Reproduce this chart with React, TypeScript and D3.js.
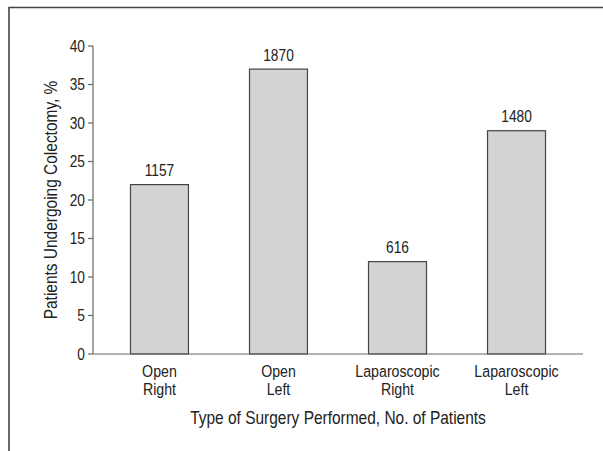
import React from "react";
import * as d3 from "d3";

const categories = ["Open|Right", "Open|Left", "Laparoscopic|Right", "Laparoscopic|Left"];
const values = [22, 37, 12, 29];
const counts = ["1157", "1870", "616", "1480"];
const yTicks = [0, 5, 10, 15, 20, 25, 30, 35, 40];

const W = 603;
const H = 451;
const FONT = "'Liberation Sans', Arial, sans-serif";
const SX = 0.86;

function T({ x, y, size, anchor = "middle", rotate = 0, children }: any) {
  const tr = `translate(${x},${y})${rotate ? ` rotate(${rotate})` : ""} scale(${SX},1)`;
  return (
    <text transform={tr} textAnchor={anchor} fontSize={size} fill="#222">
      {children}
    </text>
  );
}

export default function App() {
  const x = d3.scaleBand<string>().domain(categories).range([93, 583]).paddingInner(0.513).paddingOuter(0.315);
  const y = d3.scaleLinear().domain([0, 40]).range([354, 46]);
  const axisColor = "#666";
  return (
    <svg width={W} height={H} style={{ position: "absolute", left: 0, top: 0 }} fontFamily={FONT}>
      <rect x={0} y={0} width={W} height={H} fill="#fff" />
      <path d={`M9,${H} V7.5 H${W}`} fill="none" stroke="#444" strokeWidth={1.6} />
      {categories.map((c, i) => {
        const cx = x(c)! + x.bandwidth() / 2;
        return (
          <g key={c}>
            <rect x={x(c)} y={y(values[i])} width={x.bandwidth()} height={y(0) - y(values[i])} fill="#d3d3d5" stroke="#444" strokeWidth={1.2} />
            <T x={cx} y={y(values[i]) - 8.5} size={16}>{counts[i]}</T>
            {c.split("|").map((t, j) => (
              <T key={j} x={cx} y={377 + j * 17.5} size={16.5}>{t}</T>
            ))}
          </g>
        );
      })}
      <line x1={93} x2={93} y1={y(40)} y2={y(0)} stroke={axisColor} strokeWidth={1.2} />
      <line x1={93} x2={583} y1={y(0)} y2={y(0)} stroke={axisColor} strokeWidth={1.2} />
      {yTicks.map((t) => (
        <g key={t}>
          <line x1={88} x2={93} y1={y(t)} y2={y(t)} stroke={axisColor} strokeWidth={1.2} />
          <T x={85} y={y(t) + 5.8} size={16} anchor="end">{t}</T>
        </g>
      ))}
      <T x={57} y={200} size={18} rotate={-90}>Patients Undergoing Colectomy, %</T>
      <T x={338} y={424} size={18}>Type of Surgery Performed, No. of Patients</T>
    </svg>
  );
}
